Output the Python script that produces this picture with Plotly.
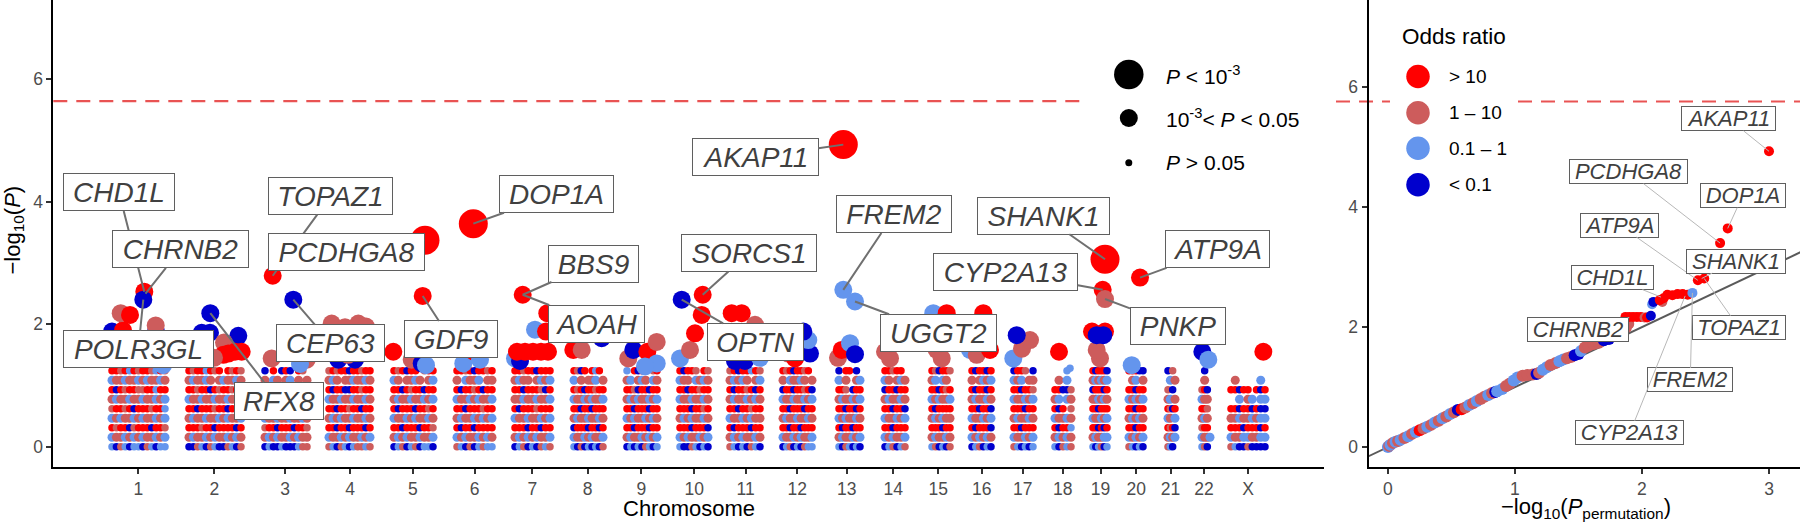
import numpy as np
import plotly.graph_objects as go

FONT = "Liberation Sans"
W, H = 1800, 526

# ---------------- Manhattan data ----------------
chrom_names = ["1", "2", "3", "4", "5", "6", "7", "8", "9", "10", "11", "12",
               "13", "14", "15", "16", "17", "18", "19", "20", "21", "22", "X"]
chrom_mid = [138.4, 214.3, 285.0, 350.1, 412.8, 474.5, 532.4, 587.7, 641.4, 694.2, 745.6, 797.3,
             846.8, 893.3, 938.3, 981.7, 1022.7, 1062.7, 1100.5, 1136.2, 1170.5, 1204.0, 1248.0]
chrom_lo = [112, 189, 265, 329, 394, 457, 515, 574, 627, 680, 730, 783,
            839, 885, 932, 972, 1014, 1055, 1093, 1129, 1168, 1202, 1231]
chrom_hi = [165, 241, 307, 370, 433, 492, 550, 603, 657, 708, 760, 812,
            860, 905, 950, 991, 1033, 1071, 1107, 1143, 1175, 1210, 1265]

# background genes: one string per chromosome for each -log10(P) level
# R = OR > 10, r = 1-10, c = 0.1-1, b = < 0.1, '.' = no gene
row_124 = ["RRrRcRrRRrcRr", "RrRRcRrR.RrRr", "b.R.bRb.Rr.", "rRrRRbRRrRR", "RrRbRR.rRR",
           "RRrRbRRrR", "RRrRRbRRR", "RrbR.RcR.", "c.RbRr.rR", "RbRRr.Rr", "rRbRRcRr",
           "RrRbRRrR.", "b.RR.b.", "RRrRR.", "RrbRRr", "RbRRbR", "bRRr.b", "...c.",
           "RbRRRb", "RRRbb", "b.r.", ".b..", "........."]
row_1085 = ["crrcrrcrcrrcr", "rcrrcr.rcrrcr", "r.cr.rc.r.r", "rcr.rrcrrcr", "cr.rrcr.rc",
            "r.crrc.rr", "rcrr.rcrc", "c.r.rrc.r", "rc.rcr.cr", "crr.crcr", "rcrcr.rc",
            "r.crrcr.r", "c.r..rc", "cr.rcr", "rc.cr.", "r.rcrc", "crc.rr", ".r.c.",
            "rcrcrc", ".rc.r", ".c.r", ".r..", ".r.....c."]
row_093 = ["RbRrRRrrRRcRR", "RRrRRbRrRRrRR", "rRRbRRrRbRr", "RbRRbbRRrRR", "RRbRrRRbRR",
           "RbRRrRbRR", "RRbRRRrbR", "RrRbRRrRR", "RRrbRRbRR", "RRbRRrRR", "RbRRrRbR",
           "bRRbRRrRb", "RRr.bRR", "bRRbRR", "RRbRrR", "RbRRbR", "RRbRRr", "RRbbr",
           "bRRRbR", "RRbRR", "r.b.", "rRb.", "RRbRR.RbR"]
row_0775 = ["rcrrcrrcrrcrc", "crrcrrcrrcrrc", "rcrrcrcrrcr", "crrcrrcrrcr", "rcrrcrrcrc",
            "crrcrcrrc", "rrcrrcrrc", "crrcrcrrc", "rcrcrrcrc", "crrcrrcr", "rcrrcrcr",
            "crrcrrcrc", "rcrrcrc", "rcrrcr", "crcrrc", "rcrrcr", "crrcrc", "rc.cr",
            "rrcrcr", "crcrc", "rc.r", "crr.", "..c.rc.cc"]
row_062 = ["rRRrRbRRRrRRc", "RRbRRRrRRbRRr", "RRrRRbRRRrR", "RRbRRrRRbRR", "RbRRRbRRrR",
           "RRbRRRrRR", "RbRRRrRRR", "RRbRRbRRR", "RRbRRRbRR", "RRRbRRrR", "RRbRRrRR",
           "RRbRRRbRR", "RRbRRbR", "RRbRRb", "RbRRRR", "RRbRRb", "RRRbRR", "RbR.r",
           "RRbRRR", "RRbRR", "RrbR", "RRr.", "RRbRRbRbb"]
row_0465 = ["crcrrcrcrrcrc", "rcrrcrrcrcrrc", "crrcrrcrrcr", "rcrcrrcrrcr", "crrcrcrrcr",
            "rcrrcrcrc", "crrcrrcrc", "rcrrcrrcr", "crcrrcrcr", "rcrcrrcr", "crrcrcrr",
            "rcrrcrrcr", "crcrrcr", "crrcrc", "rcrcrr", "crrcrc", "rcrrcr", "crrcr",
            "crrcrc", "rcrcr", "cr.c", "rcr.", "rrcrrcrcc"]
row_031 = ["RrRRbrRRRbRRr", "RRRrRRbRRRRbR", "rRRbRRRbRRr", "RRbRRbRRRbR", "RRbRRRbRRr",
           "RbRRbRRRR", "RRRbRRbRR", "bRRRbRRbR", "RRbRRRbRR", "RRRbRRRb", "RbRRRbRR",
           "RRbRRbRRR", "RbRRbRR", "RRbRRR", "RRRbRR", "RbRRRb", "RRbRRR", "RbRRc",
           "RRbRbR", "RRbRR", "RrRb", "rRR.", "RRRbRRRbR"]
row_0155 = ["crrcrcrcrrcrc", "rcrrcrcrrcrcr", "rcrcrrcrcrr", "crrcrcrrcrc", "rcrcrrcrrc",
            "crcrrcrcr", "rcrcrcrrc", "crrcrcrrc", "rcrrcrcrc", "crcrrcrc", "rcrcrrcr",
            "crrcrcrrc", "rcrrcrc", "crcrrc", "rcrrcr", "crcrcr", "crrcrc", "rcrcr",
            "rcrrcc", "crcrc", "rcrc", "crrc", "crrccrrcc"]
row_000 = ["cbrcbccbrcbcc", "bbrcbrcbbrcbr", "bcbbcbbbcrr", "rcbrcbcrrcr", "bcrbcrbccb",
           "rcbrbcrcc", "bcrbcbrcr", "cbrbcbcbr", "bcbcbrcbc", "cbbrcbcb", "rcbcbrcb",
           "bcrbcbrcc", "cbrcbcb", "bcrbcr", "crbcbr", "bcrbcb", "rcbcbc", "cbrcr",
           "cbcrbc", "rcbcb", "rcb.", "crb.", "rcbbrbbbb"]
fill_levels = [1.085, 0.775, 0.465, 0.155]
fill_rows = [row_1085, row_0775, row_0465, row_0155]
step_levels = [1.24, 0.93, 0.62, 0.31, 0.0]
step_rows = [row_124, row_093, row_062, row_031, row_000]

# genes with -log10(P) above the background cloud
hi_x = [112, 123, 156, 155.7, 120.7, 130, 163, 118, 150, 144.3, 143.3,
        201.7, 210, 238.3, 224, 223.3, 228.3, 235, 241.7, 214, 210.3,
        271.7, 306.7, 300, 272.7, 293.3,
        331.7, 345, 358.3, 366, 338.3, 355, 348,
        393.3, 411.7, 421.7, 426, 422.7, 425,
        463.3, 474, 480, 473.3,
        515, 520, 517, 525, 533, 541, 548, 535, 546, 547.3, 522.7,
        573.3, 581.7, 601.7,
        628.3, 633.3, 647.3, 656.7, 656.7, 645,
        680, 690, 695, 701.7, 681.7, 702.7,
        735, 745, 760, 755, 731.7, 741.7,
        788.3, 795, 810, 808.3, 803.3,
        838, 841.7, 850, 855, 843.3, 855, 843.3,
        885, 890,
        936.7, 941.7, 933.3, 946.7,
        970, 976.7, 990, 983.3,
        1013.3, 1022, 1030, 1016.7,
        1059, 1070,
        1100, 1096.7, 1092, 1105, 1096.7, 1103.3, 1102.7, 1105, 1105,
        1131.7, 1140,
        1202.3, 1208.3,
        1263.3]
hi_y = [1.88, 1.90, 1.88, 1.98, 2.18, 2.15, 1.33, 1.50, 1.45, 2.53, 2.40,
        1.86, 1.86, 1.81, 1.70, 1.50, 1.52, 1.55, 1.55, 1.45, 2.18,
        1.44, 1.42, 1.35, 2.79, 2.40,
        2.01, 1.95, 2.01, 1.96, 1.42, 1.42, 1.50,
        1.55, 1.42, 1.36, 1.33, 2.46, 3.37,
        1.36, 1.55, 1.42, 3.64,
        1.44, 1.40, 1.55, 1.55, 1.55, 1.55, 1.55, 1.91, 1.88, 2.18, 2.48,
        1.58, 1.58, 1.77,
        1.44, 1.58, 1.55, 1.71, 1.36, 1.31,
        1.44, 1.58, 1.85, 2.15, 2.40, 2.48,
        1.40, 1.40, 1.45, 1.99, 2.18, 2.18,
        1.52, 1.44, 1.52, 1.74, 1.88,
        1.45, 1.58, 1.69, 1.51, 2.56, 2.37, 4.93,
        1.55, 1.44,
        1.58, 1.44, 2.18, 2.18,
        1.58, 1.50, 1.58, 2.18,
        1.44, 1.60, 1.74, 1.82,
        1.55, 1.28,
        1.44, 1.58, 1.88, 1.88, 1.82, 1.82, 2.56, 2.41, 3.06,
        1.33, 2.76,
        1.55, 1.42,
        1.55]
hi_col = list("bRbrrRcrrRb" "bbbrRRRRrb" "rrcRb" "rrrrbbr" "RrbcRR" "cRcR"
              "cbRRRRRcRRR" "Rrb" "rbRrcc" "crRRbR" "bbcrRR" "rRbcb" "rRcbccR"
              "rr" "rrcR" "crRR" "crrb" "Rc" "rrRRbbRrR" "cR" "bc" "R")

# labelled genes: point in data units
lab_gene = ["CHD1L", "CHRNB2", "POLR3GL", "RFX8", "TOPAZ1", "PCDHGA8", "CEP63", "GDF9",
            "DOP1A", "BBS9", "AOAH", "AKAP11", "SORCS1", "OPTN", "FREM2", "UGGT2",
            "SHANK1", "CYP2A13", "ATP9A", "PNKP"]
lab_x = [144.3, 145.5, 143.3, 210.3, 272.7, 425, 293.3, 422.7, 473.3, 522.7, 522.7, 843.3,
         702.7, 681.7, 843.3, 855, 1105, 1102.7, 1140, 1105]
lab_y = [2.53, 2.50, 2.40, 2.18, 2.79, 3.37, 2.40, 2.46, 3.64, 2.48, 2.48, 4.93,
         2.48, 2.40, 2.56, 2.37, 3.06, 2.56, 2.76, 2.41]
# label box placement (centre, data units) and box width in px
lab_pos = [(119, 4.15, 110), (180.7, 3.22, 135), (138.3, 1.59, 149), (278.5, 0.754, 88),
           (330.7, 4.09, 123), (346.7, 3.17, 155), (330.7, 1.69, 107), (451, 1.75, 92),
           (556, 4.12, 113), (593.3, 2.99, 89), (596.3, 2.01, 95), (755.3, 4.72, 125),
           (749, 3.16, 134), (755.3, 1.71, 95), (893.8, 3.79, 114), (938.5, 1.86, 115),
           (1043, 3.77, 131), (1005.8, 2.85, 143), (1217.5, 3.22, 103), (1177.5, 1.97, 94)]

# ---------------- QQ data ----------------
qq_x = [0.00, 0.01, 0.02, 0.04, 0.06, 0.08, 0.10, 0.13, 0.16, 0.19, 0.22, 0.25, 0.28, 0.31,
        0.34, 0.37, 0.40, 0.43, 0.46, 0.49, 0.52, 0.55, 0.58, 0.61, 0.64, 0.67, 0.70, 0.73,
        0.76, 0.79, 0.82, 0.845, 0.86, 0.90, 0.93, 0.96, 0.99, 1.02, 1.06, 1.10, 1.14, 1.17,
        1.19, 1.22, 1.25, 1.28, 1.32, 1.35, 1.38, 1.41, 1.44, 1.47, 1.50, 1.52, 1.55, 1.58,
        1.62, 1.66, 1.70, 1.74, 1.78, 1.82, 1.88, 1.90,
        1.87, 1.90, 1.93, 1.96, 1.99, 2.02, 2.04, 2.07, 2.08, 2.09,
        2.16, 2.14, 2.17, 2.20, 2.24, 2.28, 2.32, 2.36, 2.397, 2.44, 2.49, 2.615, 2.675, 3.00]
qq_y = [0.00, 0.02, 0.04, 0.07, 0.09, 0.10, 0.12, 0.15, 0.18, 0.22, 0.25, 0.28, 0.31, 0.34,
        0.37, 0.41, 0.44, 0.48, 0.51, 0.55, 0.58, 0.62, 0.63, 0.66, 0.70, 0.73, 0.77, 0.80,
        0.84, 0.87, 0.90, 0.92, 0.93, 0.97, 1.02, 1.06, 1.11, 1.16, 1.19, 1.20, 1.21, 1.22,
        1.24, 1.29, 1.33, 1.37, 1.40, 1.43, 1.46, 1.48, 1.50, 1.53, 1.55, 1.60, 1.66, 1.69,
        1.72, 1.74, 1.78, 1.80, 1.85, 1.90, 1.98, 2.05,
        2.17, 2.17, 2.17, 2.17, 2.17, 2.16, 2.16, 2.19, 2.38, 2.42,
        2.42, 2.45, 2.48, 2.54, 2.53, 2.55, 2.55, 2.54, 2.57, 2.78, 2.81, 3.40, 3.645, 4.93]
qq_col = list("crcrcrcrcrcRrc" "rcrcrcrbRrcrcr" "rcrbccrrccrrrb" "rccrrccrrbbcrr" "rrbbbrrr"
              "RRRRRrRbcb" "rRRRRRRRcRRRRR")

# labelled genes on the QQ panel: point, label centre
qq_gene = ["AKAP11", "PCDHGA8", "DOP1A", "ATP9A", "SHANK1", "TOPAZ1", "CHD1L", "CHRNB2",
           "FREM2", "CYP2A13"]
qq_px = [3.00, 2.615, 2.675, 2.44, 2.47, 2.49, 2.15, 1.90, 2.397, 2.34]
qq_py = [4.93, 3.40, 3.645, 2.78, 2.81, 2.81, 2.50, 2.16, 2.57, 2.52]
qq_pos = [(2.683, 5.47, 93), (1.891, 4.59, 117), (2.793, 4.19, 84), (1.822, 3.70, 77),
          (2.737, 3.10, 98), (2.763, 1.99, 92), (1.769, 2.825, 81), (1.496, 1.953, 100),
          (2.380, 1.12, 84), (1.905, 0.24, 107)]

OR_COLORS = {"R": "#FF0000", "r": "#CD5C5C", "c": "#6495ED", "b": "#0000CD"}
or_labels = ["&gt; 10", "1 – 10", "0.1 – 1", "&lt; 0.1"]


def p_size(v):
    if v > 3:
        return 29
    if v > 1.301:
        return 18
    return 7.5


def cloud_points(levels, rows):
    xs_all, ys_all, cols = [], [], []
    for lev, row in zip(levels, rows):
        for lo, hi, s in zip(chrom_lo, chrom_hi, row):
            xs = np.linspace(lo, hi, len(s))
            for xv, ch in zip(xs, s):
                if ch != ".":
                    xs_all.append(xv)
                    ys_all.append(lev)
                    cols.append(OR_COLORS[ch])
    return xs_all, ys_all, cols


fig = go.Figure()

# background cloud: in-between genes first, then the stepped permutation levels
for levels, rows, size in [(fill_levels, fill_rows, 9), (step_levels, step_rows, 7.5)]:
    cx, cy, cc = cloud_points(levels, rows)
    fig.add_trace(go.Scatter(x=cx, y=cy, mode="markers", xaxis="x", yaxis="y", hoverinfo="skip",
                             marker=dict(size=size, color=cc, opacity=1, line=dict(width=0))))

fig.add_trace(go.Scatter(x=hi_x, y=hi_y, mode="markers", xaxis="x", yaxis="y", hoverinfo="skip",
                         marker=dict(size=[p_size(v) for v in hi_y], opacity=1,
                                     color=[OR_COLORS[c] for c in hi_col], line=dict(width=0))))

# QQ panel
fig.add_trace(go.Scatter(x=[-0.3, 3.4], y=[-0.3, 3.4], mode="lines", xaxis="x2", yaxis="y2",
                         line=dict(color="#5a5a5a", width=2), hoverinfo="skip"))
fig.add_trace(go.Scatter(x=qq_x, y=qq_y, mode="markers", xaxis="x2", yaxis="y2", hoverinfo="skip",
                         marker=dict(size=[12 if v < 1.86 else 10 for v in qq_x], opacity=1,
                                     color=[OR_COLORS[c] for c in qq_col], line=dict(width=0))))

annotations = []
for g, px, py, (tx, ty, bw) in zip(lab_gene, lab_x, lab_y, lab_pos):
    annotations.append(dict(
        x=px, y=py, xref="x", yref="y", ax=tx, ay=ty, axref="x", ayref="y",
        text=f"<i>{g}</i>", showarrow=True, arrowhead=0, arrowwidth=2, arrowcolor="#707070",
        font=dict(family=FONT, size=28, color="#404040"), bgcolor="white",
        bordercolor="#5f5f5f", borderwidth=1, borderpad=0, width=bw, height=36))
for g, px, py, (tx, ty, bw) in zip(qq_gene, qq_px, qq_py, qq_pos):
    annotations.append(dict(
        x=px, y=py, xref="x2", yref="y2", ax=tx, ay=ty, axref="x2", ayref="y2",
        text=f"<i>{g}</i>", showarrow=True, arrowhead=0, arrowwidth=1, arrowcolor="#b8b8b8",
        font=dict(family=FONT, size=22, color="#404040"), bgcolor="white",
        bordercolor="#5f5f5f", borderwidth=1, borderpad=0, width=bw, height=23))

shapes = []
# significance threshold lines
dash_line = dict(color="rgba(228,40,40,0.8)", width=2.2, dash="14px,9px")
shapes.append(dict(type="line", xref="paper", yref="y", x0=53.3 / W, x1=1084 / W, y0=5.64, y1=5.64,
                   line=dash_line, layer="below"))
shapes.append(dict(type="line", xref="paper", yref="y2", x0=1336 / W, x1=1390 / W, y0=5.76, y1=5.76,
                   line=dash_line, layer="below"))
shapes.append(dict(type="line", xref="paper", yref="y2", x0=1518 / W, x1=1.0, y0=5.76, y1=5.76,
                   line=dash_line, layer="below"))


def circle(px, py, d, color):
    return dict(type="circle", xref="paper", yref="paper", xsizemode="pixel", ysizemode="pixel",
                xanchor=px / W, yanchor=1 - py / H, x0=-d / 2, x1=d / 2, y0=-d / 2, y1=d / 2,
                fillcolor=color, line=dict(width=0))


def paper_text(px, py, text, size, xanchor="left", **kw):
    return dict(x=px / W, y=1 - py / H, xref="paper", yref="paper", text=text, showarrow=False,
                xanchor=xanchor, yanchor="middle", font=dict(family=FONT, size=size, color="black"),
                **kw)


# size legend
size_text = ["<i>P</i> &lt; 10<sup>-3</sup>", "10<sup>-3</sup>&lt; <i>P</i> &lt; 0.05",
             "<i>P</i> &gt; 0.05"]
for py, d, t in zip([74.5, 118, 162.7], [29.5, 18, 7], size_text):
    shapes.append(circle(1128.8, py, d, "black"))
    annotations.append(paper_text(1164, py, t, 21))

# odds ratio legend
annotations.append(paper_text(1400, 37, "Odds ratio", 22.5))
for py, key, t in zip([76.5, 112.7, 148.3, 184.8], "Rrcb", or_labels):
    shapes.append(circle(1418, py, 23.5, OR_COLORS[key]))
    annotations.append(paper_text(1447, py, t, 19))

# axis titles
annotations.append(paper_text(13.5, 230, "−log<sub>10</sub>(<i>P</i>)", 22, xanchor="center",
                              textangle=-90))
annotations.append(paper_text(688.7, 508, "Chromosome", 22, xanchor="center"))
annotations.append(paper_text(1586, 508, "−log<sub>10</sub>(<i>P</i><sub>permutation</sub>)", 22,
                              xanchor="center"))

axis_common = dict(showline=True, linecolor="black", linewidth=1.8, ticks="outside", ticklen=5,
                   tickwidth=1.5, tickcolor="#333333", showgrid=False, zeroline=False,
                   tickfont=dict(family=FONT, size=17.5, color="#4d4d4d"))
ydom = [1 - 466.7 / H, 1.0]

fig.update_layout(
    width=W, height=H, margin=dict(l=0, r=0, t=0, b=0),
    paper_bgcolor="white", plot_bgcolor="white", showlegend=False,
    xaxis=dict(domain=[53.3 / W, 1324 / W], range=[53.3, 1324], tickvals=chrom_mid,
               ticktext=chrom_names, anchor="y", **axis_common),
    yaxis=dict(domain=ydom, range=[-0.326, 7.29], tickvals=[0, 2, 4, 6], anchor="x",
               **axis_common),
    xaxis2=dict(domain=[1368.5 / W, 1.0], range=[-0.153, 3.244], tickvals=[0, 1, 2, 3],
                anchor="y2", **axis_common),
    yaxis2=dict(domain=ydom, range=[-0.327, 7.452], tickvals=[0, 2, 4, 6], anchor="x2",
                **axis_common),
    annotations=annotations,
    shapes=shapes,
)

fig.write_html("out.html", config={"displayModeBar": False},
               post_script="document.body.style.margin='0';")
